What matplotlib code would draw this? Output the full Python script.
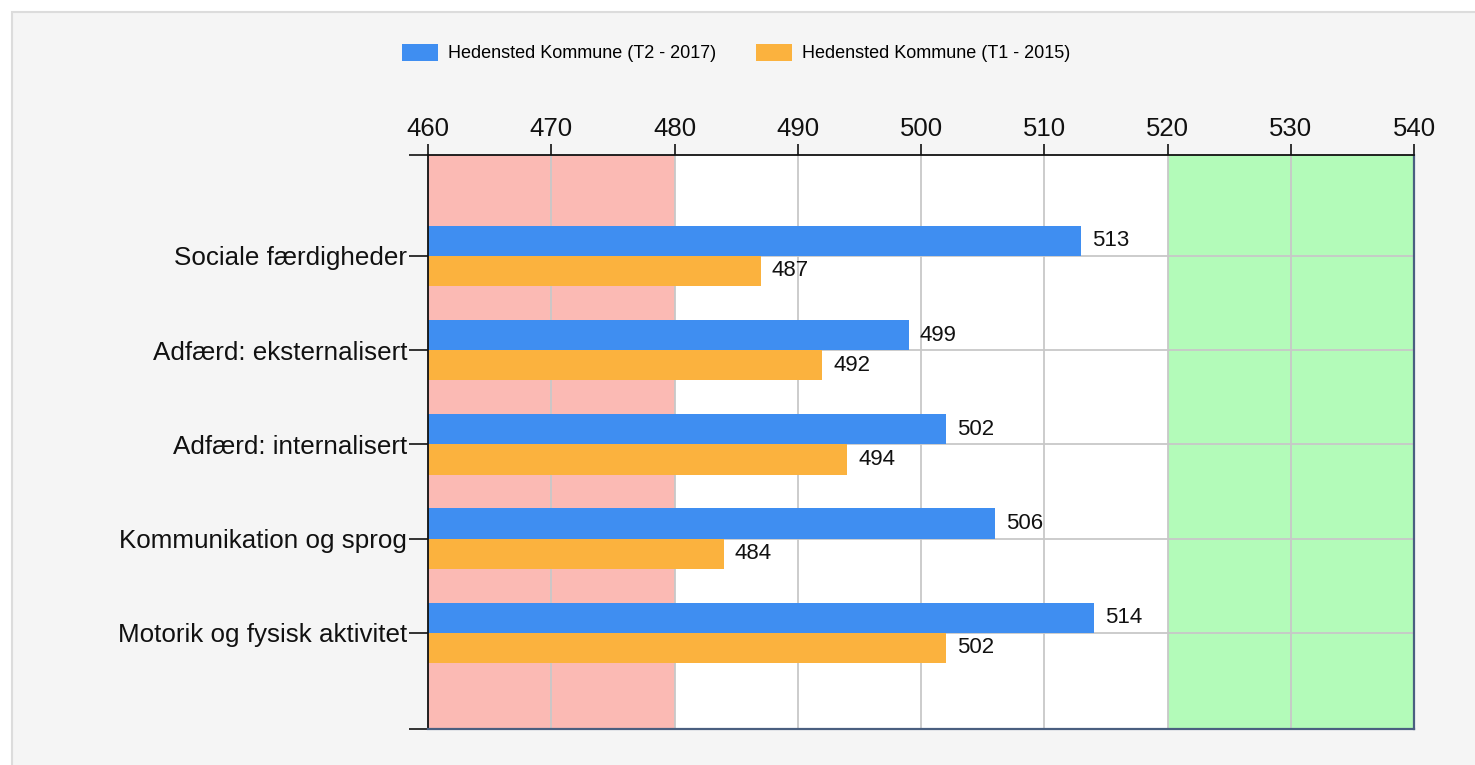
import numpy as np
import matplotlib.pyplot as plt
from matplotlib.patches import Rectangle, Patch

categories = [
    "Sociale færdigheder",
    "Adfærd: eksternalisert",
    "Adfærd: internalisert",
    "Kommunikation og sprog",
    "Motorik og fysisk aktivitet",
]
t2_2017 = [513, 499, 502, 506, 514]
t1_2015 = [487, 492, 494, 484, 502]
series_labels = ["Hedensted Kommune (T2 - 2017)", "Hedensted Kommune (T1 - 2015)"]
x_ticks = [460, 470, 480, 490, 500, 510, 520, 530, 540]

BLUE = "#3f8ef1"
ORANGE = "#fbb23e"
RED_BAND = "#fbbab4"
GREEN_BAND = "#b3fbb9"
GRID = "#c8c8c8"

plt.rcParams["font.family"] = ["Liberation Sans", "DejaVu Sans"]

fig = plt.figure(figsize=(14.75, 7.65), dpi=100)
fig.patch.set_facecolor("white")
# light grey panel behind the chart
fig.patches.append(Rectangle((12 / 1475, -0.05), 1.1, (765 - 12) / 765 + 0.05,
                             transform=fig.transFigure, facecolor="#f5f5f5",
                             edgecolor="#dcdcdc", linewidth=1.5, zorder=-10))

ax = fig.add_axes([428 / 1475, 36 / 765, 986 / 1475, 574 / 765])
ax.set_facecolor("white")

y = np.arange(len(categories))
bar_h = 0.32

ax.axvspan(460, 480, color=RED_BAND, zorder=0, lw=0)
ax.axvspan(520, 540, color=GREEN_BAND, zorder=0, lw=0)

for xv in x_ticks[1:-1]:
    ax.axvline(xv, color=GRID, lw=1.3, zorder=1)
for yv in y:
    ax.axhline(yv, color=GRID, lw=1.3, zorder=1)

b1 = ax.barh(y - bar_h / 2, np.array(t2_2017) - 460, left=460, height=bar_h,
             color=BLUE, zorder=2)
b2 = ax.barh(y + bar_h / 2, np.array(t1_2015) - 460, left=460, height=bar_h,
             color=ORANGE, zorder=2)

for bars, vals in ((b1, t2_2017), (b2, t1_2015)):
    for rect, v in zip(bars, vals):
        ax.text(v + 0.9, rect.get_y() + rect.get_height() / 2, str(v),
                va="center", ha="left", fontsize=16, color="#111111", zorder=3)

ax.set_xlim(460, 540)
ax.set_ylim(len(categories) - 1 + 1.02, -1.07)

ax.xaxis.tick_top()
ax.set_xticks(x_ticks)
ax.tick_params(axis="x", labelsize=18.5, length=8, width=1.2, pad=2, colors="#111111")
ax.set_yticks(y, labels=categories)
ax.set_yticks([-1.07, len(categories) - 1 + 1.02], minor=True)
ax.tick_params(axis="y", which="both", labelsize=18.7, length=14, width=1.2, pad=1,
               colors="#111111")

for side in ("top", "left"):
    ax.spines[side].set_color("#111111")
    ax.spines[side].set_linewidth(1.3)
for side in ("bottom", "right"):
    ax.spines[side].set_color("#4a5f80")
    ax.spines[side].set_linewidth(1.6)

handles = [Patch(facecolor=BLUE, label=series_labels[0]),
           Patch(facecolor=ORANGE, label=series_labels[1])]
fig.legend(handles=handles, loc="center", bbox_to_anchor=(736 / 1475, 1 - 53 / 765),
           ncol=2, frameon=False, handlelength=2.0, handleheight=1.1,
           columnspacing=2.2, handletextpad=0.55,
           prop={"family": ["Liberation Sans"], "size": 13})

fig.savefig("out.png", dpi=100, facecolor=fig.get_facecolor())
